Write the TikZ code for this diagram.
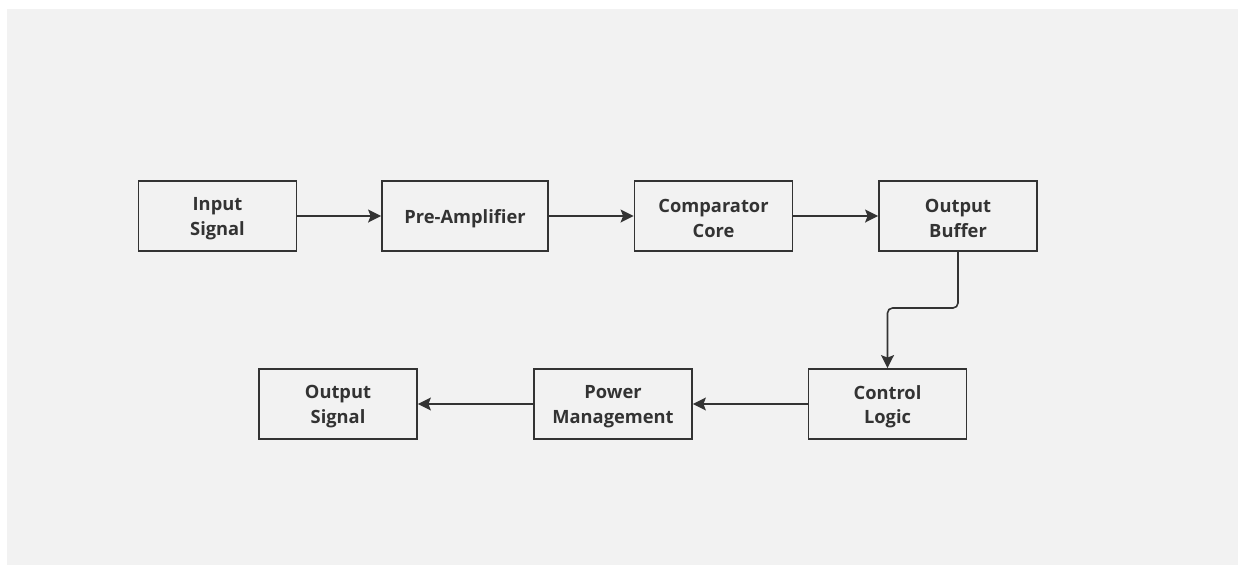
\documentclass[tikz,border=0pt]{standalone}
\usepackage{fontspec}
\setmainfont{Open Sans}
\usetikzlibrary{arrows.meta}
\definecolor{bg}{HTML}{F2F2F2}
\definecolor{ink}{HTML}{333333}
\begin{document}
\begin{tikzpicture}[x=1pt,y=-1pt,
  block/.style={draw=ink,line width=1.8pt,fill=bg,minimum width=158pt,minimum height=70pt,inner sep=0pt,
    label={[align=center,text=ink,font=\fontsize{18.3}{24.5}\selectfont\bfseries,yshift=-2.5pt]center:#1}},
  conn/.style={draw=ink,line width=1.6pt,-{Stealth[length=13pt,width=13pt,inset=2.5pt]}}]
\useasboundingbox (0,0) rectangle (1238,565);
\fill[white] (0,0) rectangle (1238,565);
\fill[bg] (7,9) rectangle (1238,565);
\node[block={Input\\Signal}] (in) at (217.5,216) {};
\node[block={Pre-Amplifier},minimum width=166pt] (pre) at (465,216) {};
\node[block={Comparator\\Core}] (cmp) at (713.5,216) {};
\node[block={Output\\Buffer}] (buf) at (958,216) {};
\node[block={Control\\Logic}] (ctl) at (887.5,404) {};
\node[block={Power\\Management}] (pwr) at (613,404) {};
\node[block={Output\\Signal}] (out) at (338,404) {};
\draw[conn] (in) -- (pre);
\draw[conn] (pre) -- (cmp);
\draw[conn] (cmp) -- (buf);
\draw[conn,rounded corners=5pt] (buf.south) -- (958,308) -- (ctl.north |- 0,308) -- (ctl.north);
\draw[conn] (ctl) -- (pwr);
\draw[conn] (pwr) -- (out);
\end{tikzpicture}
\end{document}
